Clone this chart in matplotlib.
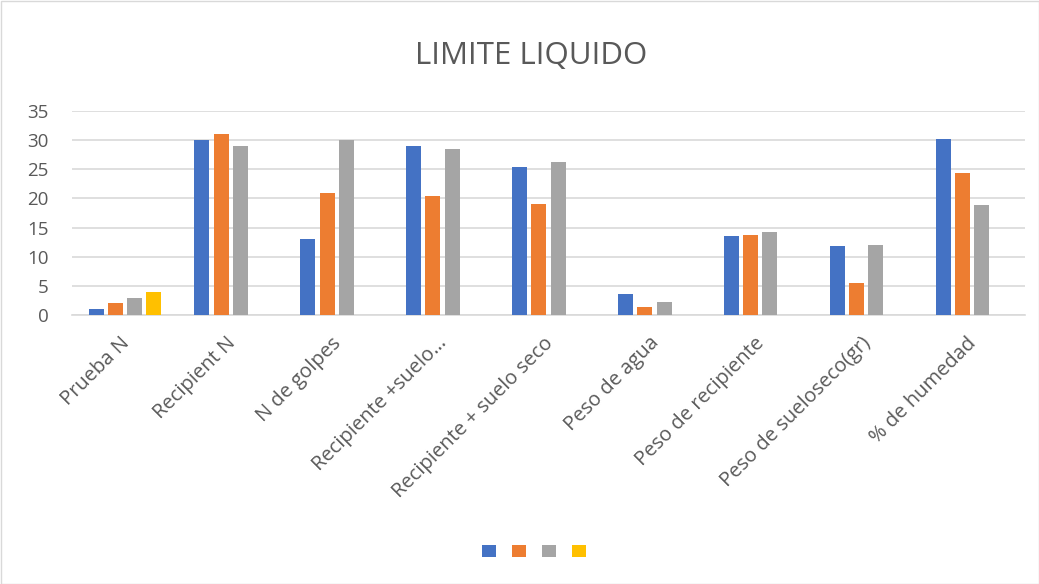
import numpy as np
import matplotlib.pyplot as plt
from matplotlib.patches import Rectangle, Patch
import matplotlib.transforms as mtransforms

categorias = ["Prueba N", "Recipient N", "N de golpes", "Recipiente +suelo…",
              "Recipiente + suelo seco", "Peso de agua", "Peso de recipiente",
              "Peso de sueloseco(gr)", "% de humedad"]
serie1 = [1, 30, 13, 29.03, 25.37, 3.54, 13.54, 11.83, 30.17]
serie2 = [2, 31, 21, 20.4, 19.09, 1.31, 13.66, 5.43, 24.29]
serie3 = [3, 29, 30, 28.46, 26.23, 2.23, 14.23, 11.94, 18.86]
serie4 = [4, np.nan, np.nan, np.nan, np.nan, np.nan, np.nan, np.nan, np.nan]
colores = ["#4472c4", "#ed7d31", "#a5a5a5", "#ffc000"]

plt.rcParams['font.family'] = ['Open Sans', 'DejaVu Sans']
texto = "#595959"

fig = plt.figure(figsize=(10.39, 5.84), dpi=100)
ax = fig.add_axes([72/1039, 1 - 315/584, (1025-72)/1039, (315-111)/584])

x = np.arange(len(categorias))
ancho = 0.142
paso = 0.182
for i, (serie, c) in enumerate(zip([serie1, serie2, serie3, serie4], colores)):
    ax.bar(x + (i - 1.5) * paso, serie, ancho, color=c, zorder=3)

ax.set_xlim(-0.5, len(categorias) - 0.5)
ax.set_ylim(0, 35)
ax.set_yticks(range(0, 36, 5))
ax.yaxis.grid(True, color="#d9d9d9", linewidth=1.2, zorder=0)
for s in ["top", "right", "left"]:
    ax.spines[s].set_visible(False)
ax.spines["bottom"].set_color("#d9d9d9")
ax.spines["bottom"].set_linewidth(1.2)
ax.tick_params(axis="y", length=0, pad=17, labelsize=13.5, labelcolor=texto)
ax.tick_params(axis="x", length=0, pad=13, labelsize=14.5, labelcolor=texto)
ax.set_xticks(x)
ax.set_xticklabels(categorias, rotation=45, ha="right", rotation_mode="anchor")
desplaza = mtransforms.ScaledTranslation(-4/72, 0, fig.dpi_scale_trans)
for lbl in ax.get_xticklabels():
    lbl.set_transform(lbl.get_transform() + desplaza)

fig.text(0.511, 1 - 56/584, "LIMITE LIQUIDO", ha="center", va="center",
         fontsize=22.5, color=texto)

manejadores = [Patch(facecolor=c) for c in colores]
fig.legend(manejadores, ["", "", "", ""], loc="center",
           bbox_to_anchor=(534/1039, 1 - 552/584), ncol=4, frameon=False,
           handlelength=1.0, handleheight=1.0, handletextpad=0,
           columnspacing=1.15, fontsize=10)

fig.patches.append(Rectangle((0.5/1039, 0.5/584), 1 - 1/1039, 1 - 1/584,
                             transform=fig.transFigure, fill=False,
                             edgecolor="#d9d9d9", linewidth=1))

fig.savefig("out.png", dpi=100)
